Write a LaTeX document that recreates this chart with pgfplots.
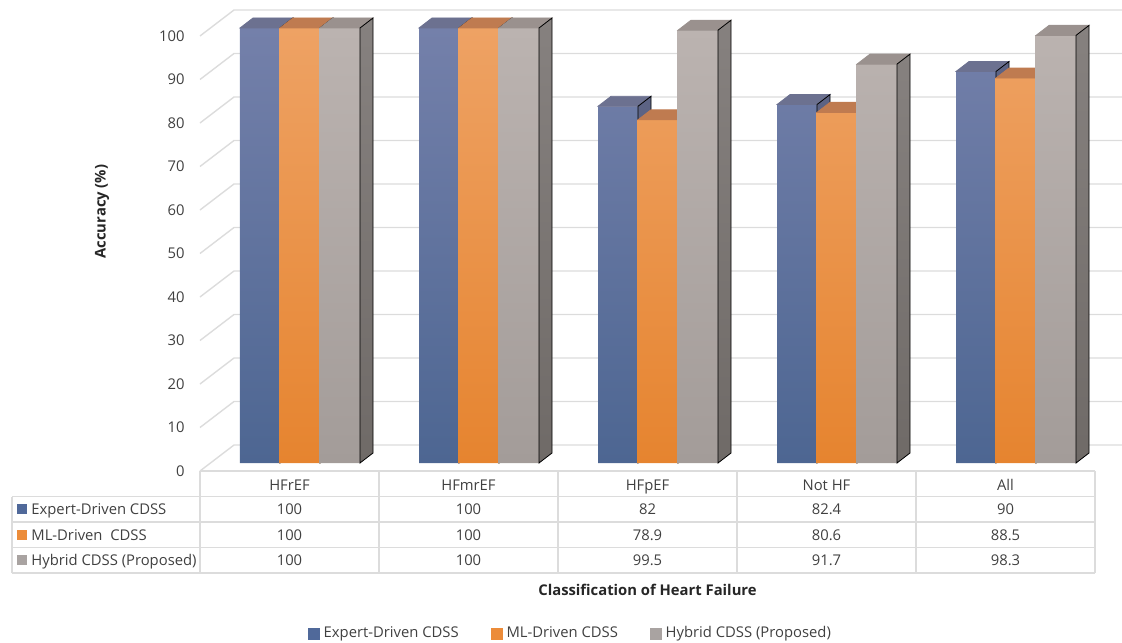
\documentclass[border=0pt]{standalone}
\usepackage{pgfplots}
\pgfplotsset{compat=1.18}
\usepackage{pgfplotstable}
\usepackage{fontspec}
\setmainfont{Open Sans}

\definecolor{exptop}{HTML}{7480AA}
\definecolor{expbot}{HTML}{4D6692}
\definecolor{expcap}{HTML}{6C7190}
\definecolor{expside}{HTML}{5C6384}
\definecolor{mltop}{HTML}{EEA264}
\definecolor{mlbot}{HTML}{E6842F}
\definecolor{mlcap}{HTML}{BF7B50}
\definecolor{mlside}{HTML}{B06A35}
\definecolor{hytop}{HTML}{BBB3B0}
\definecolor{hybot}{HTML}{A39C99}
\definecolor{hycap}{HTML}{9A918E}
\definecolor{hysidetop}{HTML}{86817F}
\definecolor{hysidebot}{HTML}{6F6A67}
\definecolor{expkey}{HTML}{50699A}
\definecolor{mlkey}{HTML}{EC8C3A}
\definecolor{hykey}{HTML}{A9A3A1}
\definecolor{gridc}{HTML}{DCDCDC}
\definecolor{txt}{HTML}{404040}
\definecolor{lab}{HTML}{262626}

\pgfplotstableread{
x expert ml hybrid
0 100  100  100
1 100  100  100
2 82   78.9 99.5
3 82.4 80.6 91.7
4 90   88.5 98.3
}\acc

\newcommand\chartfont{\fontsize{7.4}{8.9}\selectfont}
\newdimen\barh
\pgfdeclareplotmark{nomark}{}

\tikzset{
  F/.style={shift={(-5.25pt,-4pt)}},   % front plane (table, ticks)
  W/.style={shift={(11.75pt,9pt)}},    % back wall
  cell/.style={font=\chartfont, text=txt, inner sep=0pt, text height=5.3pt, text depth=0pt},
}

% top and side faces of the columns, drawn at each data point
\pgfplotsset{
  bar3d/.style n args={4}{%
    scatter, only marks, mark=nomark, forget plot,
    visualization depends on={\thisrow{#4} \as \val},
    scatter/@pre marker code/.code={%
      \barh=2.175pt \barh=\val\barh
      \fill[#2] ({#1-10pt},0pt) -- ({#1+10pt},0pt) -- ({#1+16.5pt},5pt) -- ({#1-3.5pt},5pt) -- cycle;
      \path[#3] ({#1+10pt},0pt) -- ({#1+16.5pt},5pt) -- ({#1+16.5pt},{5pt-\barh}) -- ({#1+10pt},-\barh) -- cycle;
    },
    scatter/@post marker code/.code={},
  },
}

\begin{document}
\begin{tikzpicture}
\path[use as bounding box] (-105.25pt,-89.5pt) rectangle (455.75pt,231.5pt);
\begin{axis}[
  at={(0pt,0pt)}, anchor=south west,
  x=89.5pt, y=2.175pt,
  xmin=-0.5, xmax=4.5, ymin=0, ymax=100,
  clip=false, clip marker paths=true,
  axis line style={draw=none},
  xtick=\empty,
  ytick={0,10,...,100},
  major tick length=0pt,
  tick style={draw=none},
  /pgf/number format/assume math mode=true,
  yticklabel style={anchor=east, inner sep=0pt, xshift=-12.75pt, yshift=-4pt,
    font=\chartfont, text=txt},
  ylabel={Accuracy (\%)},
  ylabel style={at={(axis description cs:-0.1212,0.578)}, anchor=center,
    font=\chartfont\bfseries, text=lab},
  xlabel={Classification of Heart Failure},
  xlabel style={at={(axis description cs:0.4883,-0.292)}, anchor=center,
    font=\chartfont\bfseries, text=lab},
  legend columns=3,
  legend cell align=left,
  legend style={at={(axis description cs:0.401,-0.392)}, anchor=center,
    draw=none, fill=none, font=\chartfont, text=txt,
    nodes={inner sep=0pt},
    /tikz/every odd column/.append style={column sep=2pt},
    /tikz/every even column/.append style={column sep=16pt}},
]
% walls
\pgfplotsinvokeforeach{0,10,...,100}{
  \draw[gridc, line width=0.7pt] ([F]axis cs:-0.5,#1) -- ([W]axis cs:-0.5,#1) -- ([W]axis cs:4.6,#1);
}
% data table under the chart
\draw[gridc, line width=0.7pt] ([F]axis cs:-0.5,0) -- ([F]axis cs:4.5,0);
\pgfplotsinvokeforeach{12.75,25.5,38.25,51}{
  \draw[gridc, line width=0.7pt] ([F,yshift=-#1pt]axis cs:-1.55,0) -- ([F,yshift=-#1pt]axis cs:4.5,0);
}
\pgfplotsinvokeforeach{-0.5,0.5,1.5,2.5,3.5,4.5}{
  \draw[gridc, line width=0.7pt] ([F]axis cs:#1,0) -- ([F,yshift=-51pt]axis cs:#1,0);
}
\draw[gridc, line width=0.7pt] ([F,yshift=-12.75pt]axis cs:-1.55,0) -- ([F,yshift=-51pt]axis cs:-1.55,0);

\node[cell] at ([F,yshift=-7.2pt]axis cs:0,0) {HFrEF};
\node[cell] at ([F,yshift=-7.2pt]axis cs:1,0) {HFmrEF};
\node[cell] at ([F,yshift=-7.2pt]axis cs:2,0) {HFpEF};
\node[cell] at ([F,yshift=-7.2pt]axis cs:3,0) {Not HF};
\node[cell] at ([F,yshift=-7.2pt]axis cs:4,0) {All};

\node[cell] at ([F,yshift=-19.1pt]axis cs:0,0) {100};
\node[cell] at ([F,yshift=-19.1pt]axis cs:1,0) {100};
\node[cell] at ([F,yshift=-19.1pt]axis cs:2,0) {82};
\node[cell] at ([F,yshift=-19.1pt]axis cs:3,0) {82.4};
\node[cell] at ([F,yshift=-19.1pt]axis cs:4,0) {90};

\node[cell] at ([F,yshift=-31.9pt]axis cs:0,0) {100};
\node[cell] at ([F,yshift=-31.9pt]axis cs:1,0) {100};
\node[cell] at ([F,yshift=-31.9pt]axis cs:2,0) {78.9};
\node[cell] at ([F,yshift=-31.9pt]axis cs:3,0) {80.6};
\node[cell] at ([F,yshift=-31.9pt]axis cs:4,0) {88.5};

\node[cell] at ([F,yshift=-44.6pt]axis cs:0,0) {100};
\node[cell] at ([F,yshift=-44.6pt]axis cs:1,0) {100};
\node[cell] at ([F,yshift=-44.6pt]axis cs:2,0) {99.5};
\node[cell] at ([F,yshift=-44.6pt]axis cs:3,0) {91.7};
\node[cell] at ([F,yshift=-44.6pt]axis cs:4,0) {98.3};

\fill[expkey] ([F,xshift=-91.5pt,yshift=-21.6pt]axis cs:-0.5,0) rectangle ++(5pt,5pt);
\fill[mlkey]  ([F,xshift=-91.5pt,yshift=-34.4pt]axis cs:-0.5,0) rectangle ++(5pt,5pt);
\fill[hykey]  ([F,xshift=-91.5pt,yshift=-47.1pt]axis cs:-0.5,0) rectangle ++(5pt,5pt);
\node[cell, anchor=west] at ([F,xshift=-84.5pt,yshift=-19.1pt]axis cs:-0.5,0) {Expert-Driven CDSS};
\node[cell, anchor=west] at ([F,xshift=-84.5pt,yshift=-31.9pt]axis cs:-0.5,0) {ML-Driven~~CDSS};
\node[cell, anchor=west] at ([F,xshift=-84.5pt,yshift=-44.6pt]axis cs:-0.5,0) {Hybrid CDSS (Proposed)};

% columns (orange and grey fronts a hair wider so no seam shows)
\addplot[ybar, bar width=20pt, bar shift=-20pt, draw=none, top color=exptop, bottom color=expbot, forget plot]
  table[x=x, y=expert] {\acc};
\addplot[bar3d={-20pt}{expcap}{fill=expside}{expert}] table[x=x, y=expert] {\acc};
\addplot[ybar, bar width=20.8pt, bar shift=0pt, draw=none, top color=mltop, bottom color=mlbot, forget plot]
  table[x=x, y=ml] {\acc};
\addplot[bar3d={0pt}{mlcap}{fill=mlside}{ml}] table[x=x, y=ml] {\acc};
\addplot[ybar, bar width=20.8pt, bar shift=20pt, draw=none, top color=hytop, bottom color=hybot, forget plot]
  table[x=x, y=hybrid] {\acc};
\addplot[bar3d={20pt}{hycap}{top color=hysidetop, bottom color=hysidebot}{hybrid}] table[x=x, y=hybrid] {\acc};

\addlegendimage{legend image code/.code={\fill[expkey] (0pt,-2.75pt) rectangle (5.5pt,2.75pt);}}
\addlegendentry{Expert-Driven CDSS}
\addlegendimage{legend image code/.code={\fill[mlkey] (0pt,-2.75pt) rectangle (5.5pt,2.75pt);}}
\addlegendentry{ML-Driven CDSS}
\addlegendimage{legend image code/.code={\fill[hykey] (0pt,-2.75pt) rectangle (5.5pt,2.75pt);}}
\addlegendentry{Hybrid CDSS (Proposed)}
\end{axis}
\end{tikzpicture}
\end{document}
